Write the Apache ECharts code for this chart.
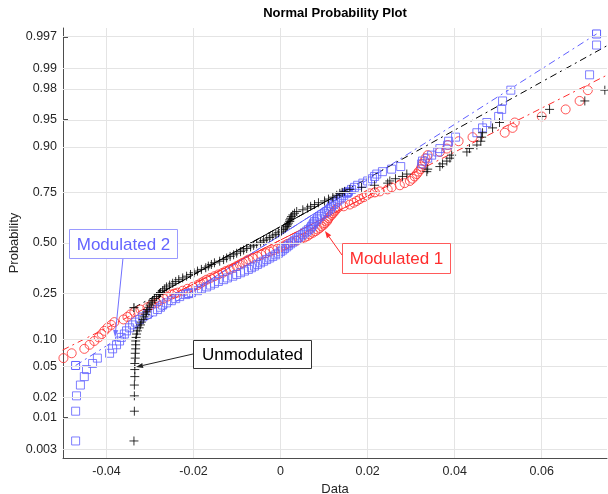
<!DOCTYPE html>
<html>
<head>
<meta charset="utf-8">
<title>Normal Probability Plot</title>
<script src="https://cdn.jsdelivr.net/npm/echarts@6/dist/echarts.min.js"></script>
<style>
  html, body { margin: 0; padding: 0; background: #fff; }
  #chart { width: 608px; height: 494px; }
</style>
</head>
<body>
<div id="chart"></div>
<script>
// sample values (unsorted order doesn't matter, they get sorted)
const unmodulated = [
  -0.0337, -0.0336, -0.0336, -0.0336, -0.0335, -0.0335, -0.0335, -0.0334, -0.0334, -0.0333,
  -0.0333, -0.0332, -0.0333, -0.0331, -0.0329, -0.0325, -0.0322, -0.0320, -0.0316, -0.0314,
  -0.0310, -0.0308, -0.0306, -0.0302, -0.0300, -0.0297, -0.0294, -0.0290, -0.0285, -0.0281,
  -0.0276, -0.0271, -0.0267, -0.0262, -0.0255, -0.0248, -0.0241, -0.0234, -0.0225, -0.0216,
  -0.0207, -0.0199, -0.0191, -0.0182, -0.0172, -0.0166, -0.0159, -0.0152, -0.0140, -0.0131,
  -0.0124, -0.0116, -0.0108, -0.0101, -0.0092, -0.0085, -0.0078, -0.0069, -0.0062, -0.0055,
  -0.0046, -0.0039, -0.0032, -0.0025, -0.0018, -0.0011, -0.0005, 0.0002, 0.0007, 0.0011,
  0.0014, 0.0016, 0.0018, 0.0021, 0.0021, 0.0023, 0.0025, 0.0028, 0.0032, 0.0037,
  0.0051, 0.0062, 0.0069, 0.0078, 0.0087, 0.0101, 0.0110, 0.0120, 0.0129, 0.0136,
  0.0147, 0.0159, 0.0186, 0.0216, 0.0246, 0.0251, 0.0264, 0.0280, 0.0290, 0.0336,
  0.0338, 0.0366, 0.0372, 0.0382, 0.0389, 0.0393, 0.0428, 0.0434, 0.0451, 0.0460,
  0.0462, 0.0464, 0.0487, 0.0503, 0.0600, 0.0618, 0.0699, 0.0745, 0.0790, 0.0870
];
const modulated1 = [
  -0.0780, -0.0650, -0.0600, -0.0570, -0.0545, -0.0528, -0.0512, -0.0499, -0.0480, -0.0451,
  -0.0439, -0.0428, -0.0418, -0.0411, -0.0405, -0.0398, -0.0389, -0.0382, -0.0361, -0.0352,
  -0.0345, -0.0336, -0.0322, -0.0306, -0.0297, -0.0285, -0.0278, -0.0269, -0.0260, -0.0251,
  -0.0237, -0.0225, -0.0214, -0.0202, -0.0191, -0.0184, -0.0177, -0.0170, -0.0161, -0.0152,
  -0.0143, -0.0133, -0.0126, -0.0117, -0.0108, -0.0101, -0.0094, -0.0087, -0.0080, -0.0074,
  -0.0064, -0.0053, -0.0044, -0.0034, -0.0025, -0.0016, -0.0007, 0.0002, 0.0009, 0.0016,
  0.0025, 0.0037, 0.0046, 0.0055, 0.0062, 0.0067, 0.0074, 0.0080, 0.0085, 0.0090,
  0.0094, 0.0099, 0.0101, 0.0106, 0.0108, 0.0110, 0.0113, 0.0117, 0.0120, 0.0124,
  0.0126, 0.0131, 0.0145, 0.0159, 0.0168, 0.0175, 0.0182, 0.0191, 0.0198, 0.0205,
  0.0228, 0.0246, 0.0255, 0.0274, 0.0285, 0.0297, 0.0303, 0.0308, 0.0313, 0.0317,
  0.0322, 0.0324, 0.0326, 0.0331, 0.0333, 0.0338, 0.0366, 0.0382, 0.0384, 0.0409,
  0.0441, 0.0515, 0.0533, 0.0538, 0.0600, 0.0655, 0.0687, 0.0706, 0.0780, 0.0850
];
const modulated2 = [
  -0.0471, -0.0471, -0.0469, -0.0460, -0.0451, -0.0446, -0.0432, -0.0421, -0.0393, -0.0386,
  -0.0377, -0.0370, -0.0366, -0.0359, -0.0354, -0.0347, -0.0340, -0.0333, -0.0324, -0.0317,
  -0.0306, -0.0294, -0.0283, -0.0276, -0.0271, -0.0262, -0.0251, -0.0241, -0.0232, -0.0218,
  -0.0205, -0.0191, -0.0182, -0.0170, -0.0161, -0.0152, -0.0143, -0.0131, -0.0122, -0.0110,
  -0.0101, -0.0092, -0.0083, -0.0074, -0.0067, -0.0060, -0.0053, -0.0046, -0.0039, -0.0032,
  -0.0025, -0.0018, -0.0011, -0.0005, 0.0000, 0.0005, 0.0009, 0.0014, 0.0018, 0.0023,
  0.0028, 0.0032, 0.0037, 0.0041, 0.0046, 0.0051, 0.0055, 0.0060, 0.0064, 0.0069,
  0.0071, 0.0074, 0.0076, 0.0078, 0.0083, 0.0085, 0.0090, 0.0094, 0.0101, 0.0106,
  0.0110, 0.0115, 0.0117, 0.0122, 0.0126, 0.0131, 0.0136, 0.0140, 0.0145, 0.0152,
  0.0156, 0.0163, 0.0170, 0.0177, 0.0189, 0.0200, 0.0211, 0.0216, 0.0221, 0.0234,
  0.0255, 0.0276, 0.0324, 0.0326, 0.0338, 0.0347, 0.0361, 0.0366, 0.0384, 0.0386,
  0.0402, 0.0451, 0.0464, 0.0474, 0.0501, 0.0508, 0.0510, 0.0529, 0.0710, 0.0726
];

const xTicks = [-0.04, -0.02, 0, 0.02, 0.04, 0.06];
const xTickLabels = ['-0.04', '-0.02', '0', '0.02', '0.04', '0.06'];
const yTickProbs = [0.003, 0.01, 0.02, 0.05, 0.10, 0.25, 0.50, 0.75, 0.90, 0.95, 0.98, 0.99, 0.997];
const yTickLabels = ['0.003', '0.01', '0.02', '0.05', '0.10', '0.25', '0.50', '0.75', '0.90', '0.95', '0.98', '0.99', '0.997'];

const FONT = '"Liberation Sans", Arial, Helvetica, sans-serif';
const BLUE = '#5f5fff';
const RED = '#ff2d2d';
const BLACK = '#000000';

// inverse normal cdf (Acklam)
function norminv(p) {
  const a = [-3.969683028665376e+01, 2.209460984245205e+02, -2.759285104469687e+02,
    1.383577518672690e+02, -3.066479806614716e+01, 2.506628277459239e+00];
  const b = [-5.447609879822406e+01, 1.615858368580409e+02, -1.556989798598866e+02,
    6.680131188771972e+01, -1.328068155288572e+01];
  const c = [-7.784894002430293e-03, -3.223964580411365e-01, -2.400758277161838e+00,
    -2.549732539343734e+00, 4.374664141464968e+00, 2.938163982698783e+00];
  const d = [7.784695709041462e-03, 3.224671290700398e-01, 2.445134137142996e+00,
    3.754408661907416e+00];
  const pl = 0.02425;
  let q, r;
  if (p < pl) {
    q = Math.sqrt(-2 * Math.log(p));
    return (((((c[0] * q + c[1]) * q + c[2]) * q + c[3]) * q + c[4]) * q + c[5]) /
      ((((d[0] * q + d[1]) * q + d[2]) * q + d[3]) * q + 1);
  }
  if (p > 1 - pl) {
    q = Math.sqrt(-2 * Math.log(1 - p));
    return -(((((c[0] * q + c[1]) * q + c[2]) * q + c[3]) * q + c[4]) * q + c[5]) /
      ((((d[0] * q + d[1]) * q + d[2]) * q + d[3]) * q + 1);
  }
  q = p - 0.5;
  r = q * q;
  return (((((a[0] * r + a[1]) * r + a[2]) * r + a[3]) * r + a[4]) * r + a[5]) * q /
    (((((b[0] * r + b[1]) * r + b[2]) * r + b[3]) * r + b[4]) * r + 1);
}

function sorted(arr) {
  return arr.slice().sort((u, v) => u - v);
}

// plotting positions (i - 0.5) / n, like normplot
function probPoints(arr) {
  const s = sorted(arr);
  const n = s.length;
  return s.map((v, i) => [v, norminv((i + 0.5) / n)]);
}

function prctile(s, p) {
  const n = s.length;
  const k = n * p + 0.5;
  const lo = Math.floor(k);
  const f = k - lo;
  return s[lo - 1] + f * (s[lo] - s[lo - 1]);
}

// reference line through the quartiles, extended to the data range
function refLines(arr) {
  const s = sorted(arr);
  const q1 = prctile(s, 0.25), q3 = prctile(s, 0.75);
  const z1 = norminv(0.25), z3 = norminv(0.75);
  const k = (z3 - z1) / (q3 - q1);
  const fit = x => z1 + k * (x - q1);
  const lo = s[0], hi = s[s.length - 1];
  return {
    solid: [[q1, z1], [q3, z3]],
    dash: [[lo, fit(lo)], [hi, fit(hi)]]
  };
}

const nPts = unmodulated.length;
const zLim = -norminv(0.25 / nPts);
const yTickZ = yTickProbs.map(norminv);

const PLUS = 'path://M5,0L5,10M0,5L10,5';

const sets = [
  { name: 'Modulated 1', data: modulated1, color: RED, symbol: 'circle', size: 9 },
  { name: 'Modulated 2', data: modulated2, color: BLUE, symbol: 'rect', size: 8 },
  { name: 'Unmodulated', data: unmodulated, color: BLACK, symbol: PLUS, size: 9 }
];

const series = [{
  type: 'line',
  data: [],
  silent: true,
  z: 0,
  markLine: {
    silent: true,
    symbol: ['none', 'none'],
    label: { show: false },
    animation: false,
    lineStyle: { color: '#e4e4e4', width: 1, type: 'solid' },
    data: xTicks.map(v => ({ xAxis: v })).concat(yTickZ.map(z => ({ yAxis: z })))
  }
}];

sets.forEach(st => {
  const hollow = { color: 'rgba(0,0,0,0)', borderColor: st.color, borderWidth: 1 };
  const ref = refLines(st.data);
  series.push({
    name: st.name,
    type: 'scatter',
    data: probPoints(st.data),
    symbol: st.symbol,
    symbolSize: st.size,
    itemStyle: hollow,
    clip: true,
    z: 3
  });
  series.push({
    type: 'line',
    data: ref.dash,
    symbol: st.symbol,
    symbolSize: st.size,
    showSymbol: true,
    itemStyle: hollow,
    lineStyle: { color: st.color, width: 1, type: [7, 4, 2, 4] },
    clip: true,
    z: 3
  });
  series.push({
    type: 'line',
    data: ref.solid,
    symbol: st.symbol,
    symbolSize: st.size,
    showSymbol: true,
    itemStyle: hollow,
    lineStyle: { color: st.color, width: 1, type: 'solid' },
    clip: true,
    z: 3
  });
});

function arrow(x1, y1, x2, y2, color) {
  const ang = Math.atan2(y2 - y1, x2 - x1);
  const len = 7, half = 2.6;
  const bx = x2 - len * Math.cos(ang), by = y2 - len * Math.sin(ang);
  const px = -Math.sin(ang) * half, py = Math.cos(ang) * half;
  return [
    { type: 'line', shape: { x1: x1, y1: y1, x2: bx, y2: by }, style: { stroke: color, lineWidth: 1 }, z: 10 },
    { type: 'polygon', shape: { points: [[x2, y2], [bx + px, by + py], [bx - px, by - py]] },
      style: { fill: color }, z: 10 }
  ];
}

function textBox(x, y, w, h, text, color, border) {
  return [
    { type: 'rect', shape: { x: x, y: y, width: w, height: h },
      style: { fill: '#fff', stroke: border, lineWidth: 1 }, z: 10 },
    { type: 'text', x: x + w / 2, y: y + h / 2 + 1,
      style: { text: text, font: '17px ' + FONT, fill: color, align: 'center', verticalAlign: 'middle' }, z: 11 }
  ];
}

const graphics = [].concat(
  [{ type: 'text', x: 335, y: 13,
     style: { text: 'Normal Probability Plot', font: 'bold 13px ' + FONT, fill: '#000',
              align: 'center', verticalAlign: 'middle' } }],
  arrow(123, 258, 115, 337, '#7070ff'),
  textBox(69.5, 229.5, 108, 29, 'Modulated 2', '#6464ff', '#9a9aff'),
  arrow(342, 255, 325, 231, RED),
  textBox(342.5, 243.5, 108, 30, 'Modulated 1', RED, '#ff5a5a'),
  arrow(193, 354, 136, 367, '#222'),
  textBox(193.5, 340.5, 118, 28, 'Unmodulated', '#000', '#333')
);

const axisColor = '#4d4d4d';

const chart = echarts.init(document.getElementById('chart'), null, { renderer: 'canvas' });
chart.setOption({
  animation: false,
  backgroundColor: '#fff',
  grid: { left: 63, right: 1, top: 28, bottom: 36, containLabel: false, outerBoundsMode: 'none' },
  xAxis: {
    type: 'value',
    min: -0.05,
    max: 0.075,
    name: 'Data',
    nameLocation: 'middle',
    nameGap: 25,
    nameMoveOverlap: false,
    nameTextStyle: { fontFamily: FONT, fontSize: 13, color: '#262626' },
    axisLine: { show: true, onZero: false, lineStyle: { color: axisColor, width: 1 } },
    axisTick: { show: true, inside: true, length: 5, customValues: xTicks, lineStyle: { color: axisColor } },
    axisLabel: {
      customValues: xTicks,
      margin: 7,
      fontFamily: FONT,
      fontSize: 12.5,
      color: '#262626',
      formatter: v => {
        const i = xTicks.findIndex(t => Math.abs(t - v) < 1e-9);
        return i < 0 ? '' : xTickLabels[i];
      }
    },
    splitLine: { show: false }
  },
  yAxis: {
    type: 'value',
    min: -zLim,
    max: zLim,
    name: 'Probability',
    nameLocation: 'middle',
    nameGap: 42,
    nameMoveOverlap: false,
    nameTextStyle: { fontFamily: FONT, fontSize: 13, color: '#262626' },
    axisLine: { show: true, onZero: false, lineStyle: { color: axisColor, width: 1 } },
    axisTick: { show: true, inside: true, length: 5, customValues: yTickZ, lineStyle: { color: axisColor } },
    axisLabel: {
      customValues: yTickZ,
      margin: 6,
      fontFamily: FONT,
      fontSize: 12.5,
      color: '#262626',
      formatter: v => {
        const i = yTickZ.findIndex(t => Math.abs(t - v) < 1e-6);
        return i < 0 ? '' : yTickLabels[i];
      }
    },
    splitLine: { show: false }
  },
  series: series,
  graphic: graphics
});
</script>
</body>
</html>
